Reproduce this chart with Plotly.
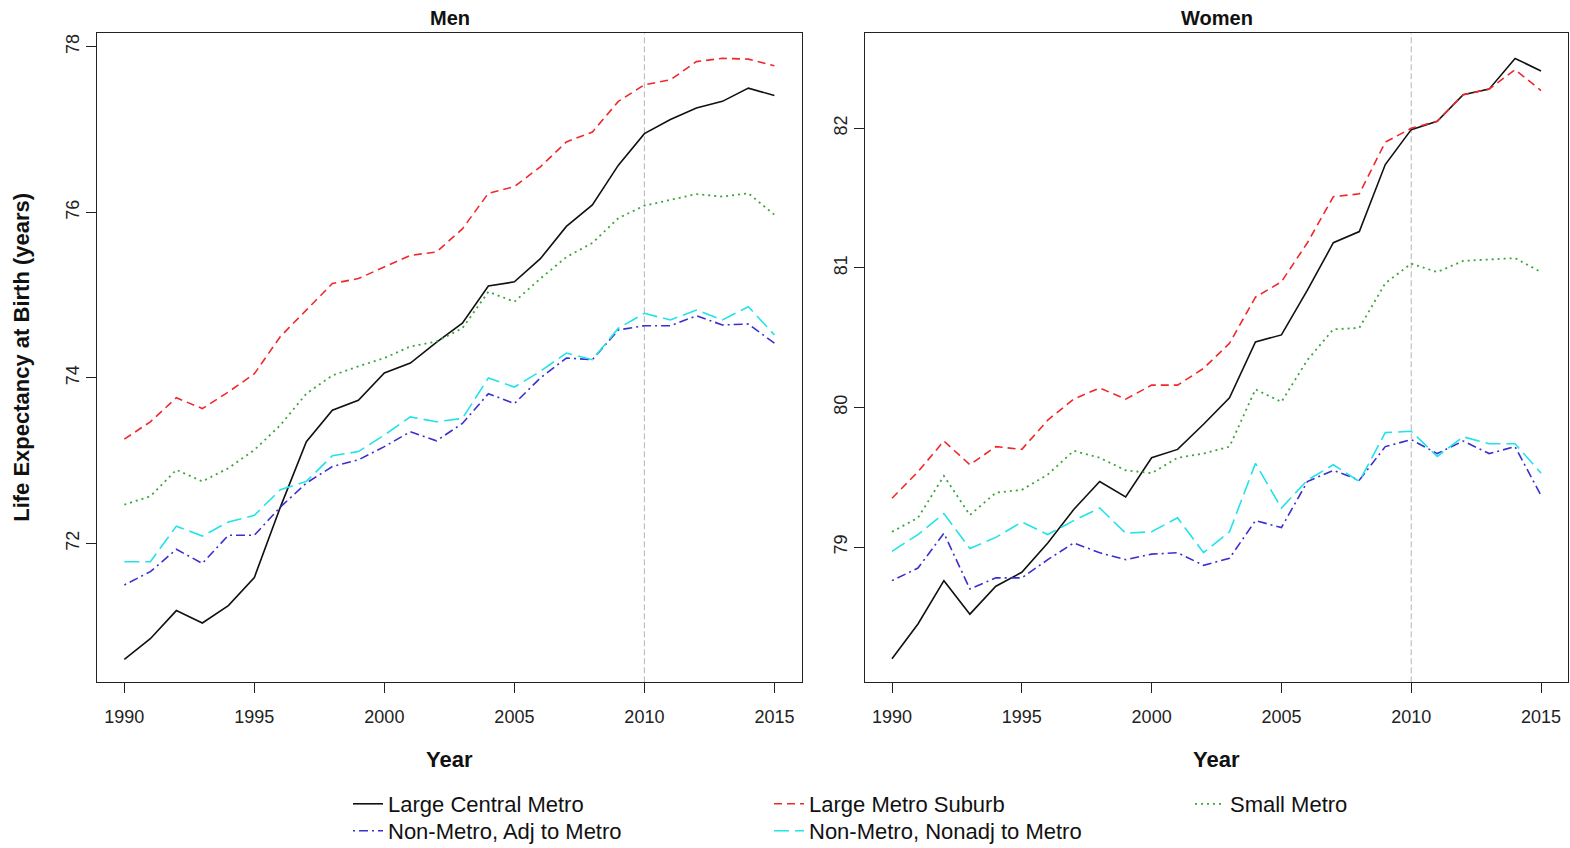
import plotly.graph_objects as go

years = list(range(1990, 2016))

series_names = ["Large Central Metro", "Large Metro Suburb", "Small Metro",
                "Non-Metro, Adj to Metro", "Non-Metro, Nonadj to Metro"]

men_large_central = [70.60, 70.85, 71.19, 71.04, 71.25, 71.59, 72.44, 73.23, 73.61, 73.73,
                     74.06, 74.18, 74.43, 74.66, 75.11, 75.16, 75.44, 75.83, 76.09, 76.57,
                     76.95, 77.12, 77.26, 77.34, 77.50, 77.41]
men_large_suburb = [73.26, 73.47, 73.76, 73.63, 73.83, 74.05, 74.50, 74.82, 75.14, 75.20,
                    75.34, 75.48, 75.52, 75.80, 76.23, 76.31, 76.55, 76.85, 76.97, 77.34,
                    77.54, 77.60, 77.82, 77.86, 77.85, 77.77]
men_small_metro = [72.47, 72.57, 72.89, 72.75, 72.91, 73.13, 73.43, 73.81, 74.03, 74.14,
                   74.24, 74.38, 74.44, 74.60, 75.04, 74.92, 75.20, 75.46, 75.63, 75.93,
                   76.08, 76.15, 76.22, 76.19, 76.23, 75.97]
men_nonmetro_adj = [71.50, 71.66, 71.93, 71.76, 72.10, 72.10, 72.44, 72.73, 72.93, 73.01,
                    73.17, 73.35, 73.24, 73.45, 73.81, 73.69, 74.00, 74.24, 74.22, 74.58,
                    74.63, 74.63, 74.75, 74.64, 74.65, 74.42]
men_nonmetro_nonadj = [71.78, 71.78, 72.21, 72.09, 72.26, 72.34, 72.65, 72.75, 73.06, 73.11,
                       73.31, 73.53, 73.47, 73.51, 74.00, 73.89, 74.08, 74.30, 74.22, 74.60,
                       74.78, 74.70, 74.82, 74.70, 74.86, 74.52]

women_large_central = [78.20, 78.45, 78.76, 78.52, 78.72, 78.82, 79.03, 79.27, 79.47, 79.36,
                       79.64, 79.70, 79.88, 80.07, 80.47, 80.52, 80.84, 81.18, 81.26, 81.74,
                       81.99, 82.05, 82.24, 82.28, 82.50, 82.41]
women_large_suburb = [79.35, 79.54, 79.76, 79.59, 79.72, 79.70, 79.91, 80.06, 80.14, 80.06,
                      80.16, 80.16, 80.28, 80.46, 80.79, 80.90, 81.18, 81.51, 81.53, 81.90,
                      82.00, 82.05, 82.24, 82.28, 82.42, 82.27]
women_small_metro = [79.11, 79.21, 79.51, 79.23, 79.39, 79.41, 79.52, 79.69, 79.64, 79.55,
                     79.53, 79.64, 79.67, 79.72, 80.13, 80.04, 80.34, 80.56, 80.57, 80.89,
                     81.03, 80.97, 81.05, 81.06, 81.07, 80.97]
women_nonmetro_adj = [78.76, 78.85, 79.10, 78.70, 78.78, 78.78, 78.91, 79.03, 78.96, 78.91,
                      78.95, 78.96, 78.87, 78.92, 79.19, 79.14, 79.47, 79.55, 79.48, 79.72,
                      79.77, 79.67, 79.76, 79.67, 79.72, 79.37]
women_nonmetro_nonadj = [78.97, 79.09, 79.24, 78.99, 79.07, 79.18, 79.09, 79.19, 79.28, 79.10,
                         79.11, 79.21, 78.96, 79.11, 79.60, 79.28, 79.48, 79.59, 79.47, 79.82,
                         79.83, 79.65, 79.79, 79.74, 79.74, 79.53]

men_ticks = [72, 74, 76, 78]
women_ticks = [79, 80, 81, 82]
x_ticks = [1990, 1995, 2000, 2005, 2010, 2015]
ref_year = 2010

men_series = [men_large_central, men_large_suburb, men_small_metro,
              men_nonmetro_adj, men_nonmetro_nonadj]
women_series = [women_large_central, women_large_suburb, women_small_metro,
                women_nonmetro_adj, women_nonmetro_nonadj]

colors = ["#111111", "#f0282c", "#3aa53a", "#3a2fd0", "#22e2ea"]
dashes = ["solid", "8px,5px", "2px,4px", "2px,4px,9px,4px", "15px,6px"]
widths = [1.6, 1.6, 1.8, 1.6, 1.6]
legend_rows = ["legend", "legend", "legend", "legend2", "legend2"]

W, H = 1570, 848
FONT = "Liberation Sans, Arial, sans-serif"

fig = go.Figure()
for i, name in enumerate(series_names):
    fig.add_trace(go.Scatter(x=years, y=men_series[i], mode="lines", name=name,
                             legendgroup=name, showlegend=True, legend=legend_rows[i],
                             line=dict(color=colors[i], dash=dashes[i], width=widths[i]),
                             xaxis="x", yaxis="y"))
for i, name in enumerate(series_names):
    fig.add_trace(go.Scatter(x=years, y=women_series[i], mode="lines", name=name,
                             legendgroup=name, showlegend=False, legend=legend_rows[i],
                             line=dict(color=colors[i], dash=dashes[i], width=widths[i]),
                             xaxis="x2", yaxis="y2"))

left1, right1 = 97.3, 801.7
left2, right2 = 865.0, 1568.3
top, bottom = 33.3, 682.3

axis_common = dict(showline=True, mirror=True, linecolor="#222", linewidth=1.3,
                   ticks="outside", ticklen=10, tickwidth=1.3, tickcolor="#222",
                   showgrid=False, zeroline=False,
                   tickfont=dict(family=FONT, size=18, color="#222"))

legend_common = dict(orientation="h", xanchor="left", yanchor="top",
                     entrywidth=376, entrywidthmode="pixels",
                     font=dict(family=FONT, size=22, color="#111"),
                     bgcolor="rgba(0,0,0,0)", borderwidth=0, tracegroupgap=0)

fig.update_layout(
    width=W, height=H, autosize=False,
    margin=dict(l=0, r=0, t=0, b=0, autoexpand=False),
    paper_bgcolor="white", plot_bgcolor="white",
    xaxis=dict(domain=[left1 / W, right1 / W], range=[1988.96, 2016.05],
               tickvals=x_ticks, anchor="y", ticklabelstandoff=8, **axis_common),
    yaxis=dict(domain=[1 - bottom / H, 1 - top / H], range=[70.324, 78.162],
               tickvals=men_ticks, tickangle=-90, anchor="x", **axis_common),
    xaxis2=dict(domain=[left2 / W, right2 / W], range=[1988.96, 2016.05],
                tickvals=x_ticks, anchor="y2", ticklabelstandoff=8, **axis_common),
    yaxis2=dict(domain=[1 - bottom / H, 1 - top / H], range=[78.032, 82.68],
                tickvals=women_ticks, tickangle=-90, anchor="x2", **axis_common),
    legend=dict(x=348 / W, y=1 - 783 / H, **legend_common),
    legend2=dict(x=348 / W, y=1 - 810 / H, **legend_common),
    showlegend=True,
)

for xref in ["x", "x2"]:
    yref = "y domain" if xref == "x" else "y2 domain"
    fig.add_shape(type="line", xref=xref, yref=yref, x0=ref_year, x1=ref_year, y0=0, y1=1,
                  line=dict(color="#b4b4b4", width=1, dash="6px,3px"), layer="below")

annots = [
    dict(text="<b>Men</b>", x=(left1 + right1) / 2 / W, y=1 - 18 / H, size=20),
    dict(text="<b>Women</b>", x=(left2 + right2) / 2 / W, y=1 - 18 / H, size=20),
    dict(text="<b>Year</b>", x=(left1 + right1) / 2 / W, y=1 - 759 / H, size=22),
    dict(text="<b>Year</b>", x=(left2 + right2) / 2 / W, y=1 - 759 / H, size=22),
]
for a in annots:
    fig.add_annotation(text=a["text"], x=a["x"], y=a["y"], xref="paper", yref="paper",
                       xanchor="center", yanchor="middle", showarrow=False,
                       font=dict(family=FONT, size=a["size"], color="#111"))
fig.add_annotation(text="<b>Life Expectancy at Birth (years)</b>", x=22 / W,
                   y=1 - (top + bottom) / 2 / H, xref="paper", yref="paper",
                   xanchor="center", yanchor="middle", showarrow=False, textangle=-90,
                   font=dict(family=FONT, size=22, color="#111"))

fig.write_html("out.html", config={"displayModeBar": False},
               post_script="document.body.style.margin='0px';"
                           "document.body.style.overflow='hidden';")
